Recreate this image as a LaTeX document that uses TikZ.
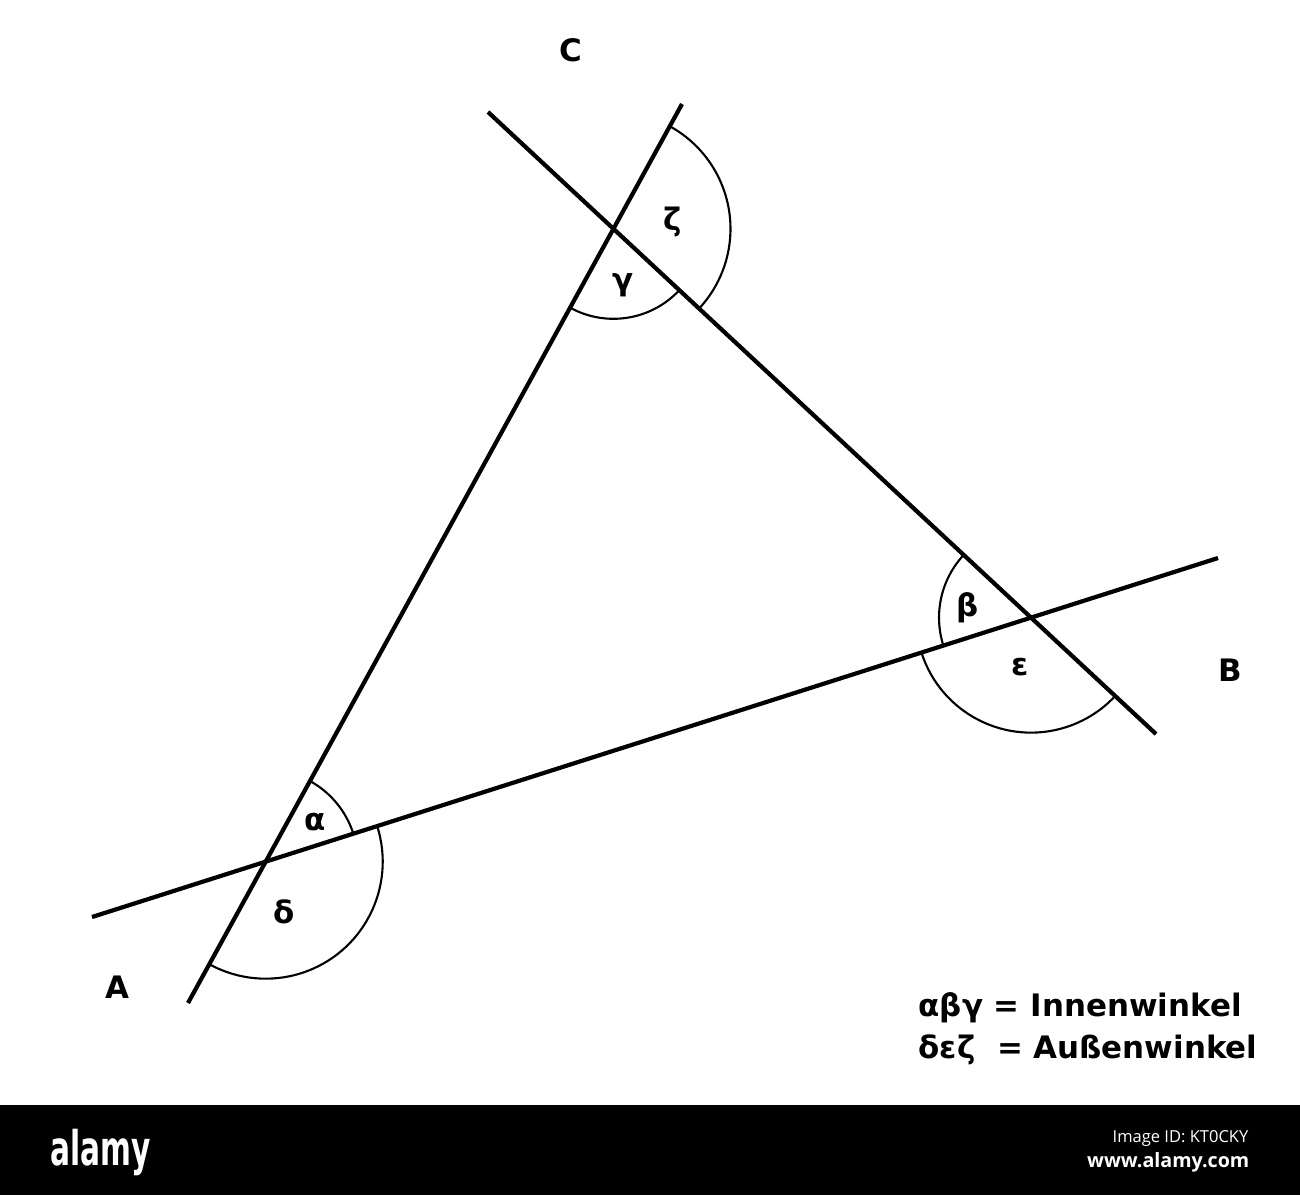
\documentclass[tikz,border=0pt]{standalone}
\usepackage{fontspec}
\setmainfont{DejaVu Sans}
\newfontfamily\wmfont{Open Sans}
\usepackage{tikz}
\usetikzlibrary{calc}
\def\winkelbogen(#1)(#2:#3:#4){\draw[bogen] ($(#1)+(#2:#4)$) arc (#2:#3:#4);}
\tikzset{
	schenkel/.style={line width=1.2pt},
	bogen/.style={line width=0.6pt},
	lbl/.style={inner sep=0pt, font=\bfseries\fontsize{8.8}{10}\selectfont},
}

\begin{document}
\begin{tikzpicture}
			%%%%% START %%%%%
			\useasboundingbox[fill=white] (0, 0) rectangle (13, -11.95);
			
			\coordinate (l1s) at (1.88, -10.03);
			\coordinate (l1e) at (6.82, -1.04);
			\coordinate (l2s) at (4.88, -1.12);
			\coordinate (l2e) at (11.56, -7.34);
			\coordinate (l3s) at (0.92, -9.17);
			\coordinate (l3e) at (12.18, -5.58);
			
			\coordinate (A) at (intersection of l1s--l1e and l3s--l3e);
			\coordinate (B) at (intersection of l2s--l2e and l3s--l3e);
			\coordinate (C) at (intersection of l1s--l1e and l2s--l2e);
			
			\draw[schenkel] (l1s) -- (l1e);
			\draw[schenkel] (l2s) -- (l2e);
			\draw[schenkel] (l3s) -- (l3e);
			
			\winkelbogen(A)(17.68:61.21:0.92)
			\winkelbogen(A)(17.68:-118.79:1.17)
			\winkelbogen(C)(241.21:317.04:0.90)
			\winkelbogen(C)(61.21:-42.96:1.17)
			\winkelbogen(B)(137.04:197.68:0.92)
			\winkelbogen(B)(197.68:317.04:1.15)
			
			\node[lbl] (alpha) at (3.15, -8.22) {α};
			\node[lbl] (delta) at (2.84, -9.12) {δ};
			\node[lbl] (gamma) at (6.23, -2.85) {γ};
			\node[lbl] (zeta) at (6.73, -2.22) {ζ};
			\node[lbl] (beta) at (9.68, -6.08) {β};
			\node[lbl] (eps) at (10.20, -6.67) {ε};
			
			\node[lbl] (labA) at (1.17, -9.87) {A};
			\node[lbl] (labB) at (12.30, -6.70) {B};
			\node[lbl] (labC) at (5.71, -0.50) {C};
			
			\node[lbl, anchor=west] (innen) at (9.18, -10.08) {αβγ = Innenwinkel};
			\node[lbl, anchor=west] (aussen) at (9.18, -10.50) {δεζ\ \ = Außenwinkel};
			
			\fill[black] (0, -11.05) rectangle (13, -11.95);
			\node[text=white, inner sep=0pt, font=\bfseries\fontsize{13.6}{14}\selectfont, anchor=base west] (logo) at (0.50, -11.65) {\scalebox{0.62}[1]{alamy}};
			\node[text=white, inner sep=0pt, font=\wmfont\fontsize{4.7}{5}\selectfont, anchor=base east] (imgid) at (12.49, -11.42) {Image ID: KT0CKY};
			\node[text=white, inner sep=0pt, font=\wmfont\bfseries\fontsize{5.6}{6}\selectfont, anchor=base east] (url) at (12.50, -11.67) {www.alamy.com};
			%%%%% END %%%%%
		\end{tikzpicture}
\end{document}
